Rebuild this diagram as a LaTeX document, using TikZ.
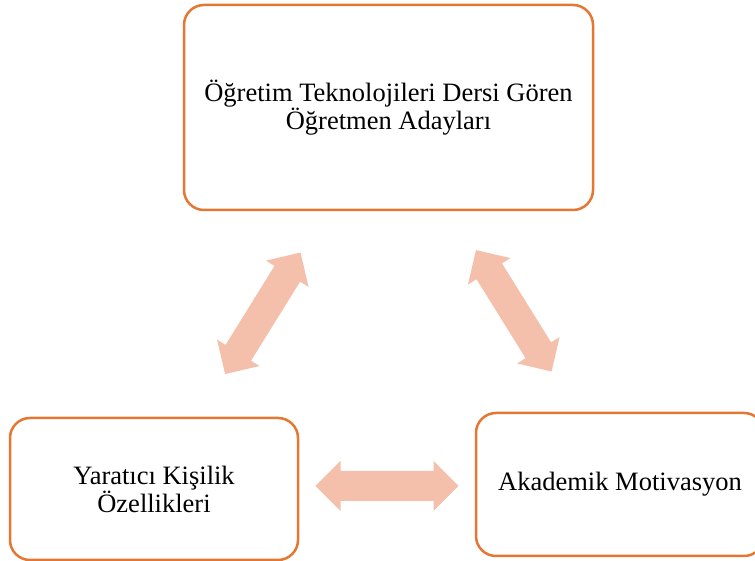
\documentclass[tikz,border=0pt]{standalone}
\usepackage{fontspec}
\setmainfont{Liberation Serif}
\definecolor{boxline}{RGB}{228,120,50}
\definecolor{arrowfill}{RGB}{244,191,171}
\tikzset{
  box/.style={draw=boxline, line width=2.5pt, rounded corners=20pt, fill=white,
    align=center, font=\fontsize{26.5}{28}\selectfont, inner sep=0pt},
  dblarrow/.pic={
    \fill[arrowfill] (-71.5,0) -- (-46.5,25) -- (-46.5,15) -- (46.5,15) -- (46.5,25)
      -- (71.5,0) -- (46.5,-25) -- (46.5,-15) -- (-46.5,-15) -- (-46.5,-25) -- cycle;
  }
}
\begin{document}
\begin{tikzpicture}[x=1pt,y=1pt]
\clip (0,0) rectangle (755,561);
\fill[white] (0,0) rectangle (755,561);
\node[box, minimum width=409pt, minimum height=205pt] (top) at (388.5,453.5)
  {Öğretim Teknolojileri Dersi Gören\\Öğretmen Adayları};
\node[box, minimum width=288pt, minimum height=142pt] (left) at (154,72)
  {Yaratıcı Kişilik\\Özellikleri};
\node[box, minimum width=288pt, minimum height=143pt] (right) at (620,76.5)
  {Akademik Motivasyon};
\coordinate (a1) at (262.8,247.7);
\coordinate (a2) at (513.8,250.2);
\coordinate (a3) at (387,75);
\pic[rotate=58.2] at (a1) {dblarrow};
\pic[rotate=-58.1] at (a2) {dblarrow};
\pic at (a3) {dblarrow};
\end{tikzpicture}
\end{document}
